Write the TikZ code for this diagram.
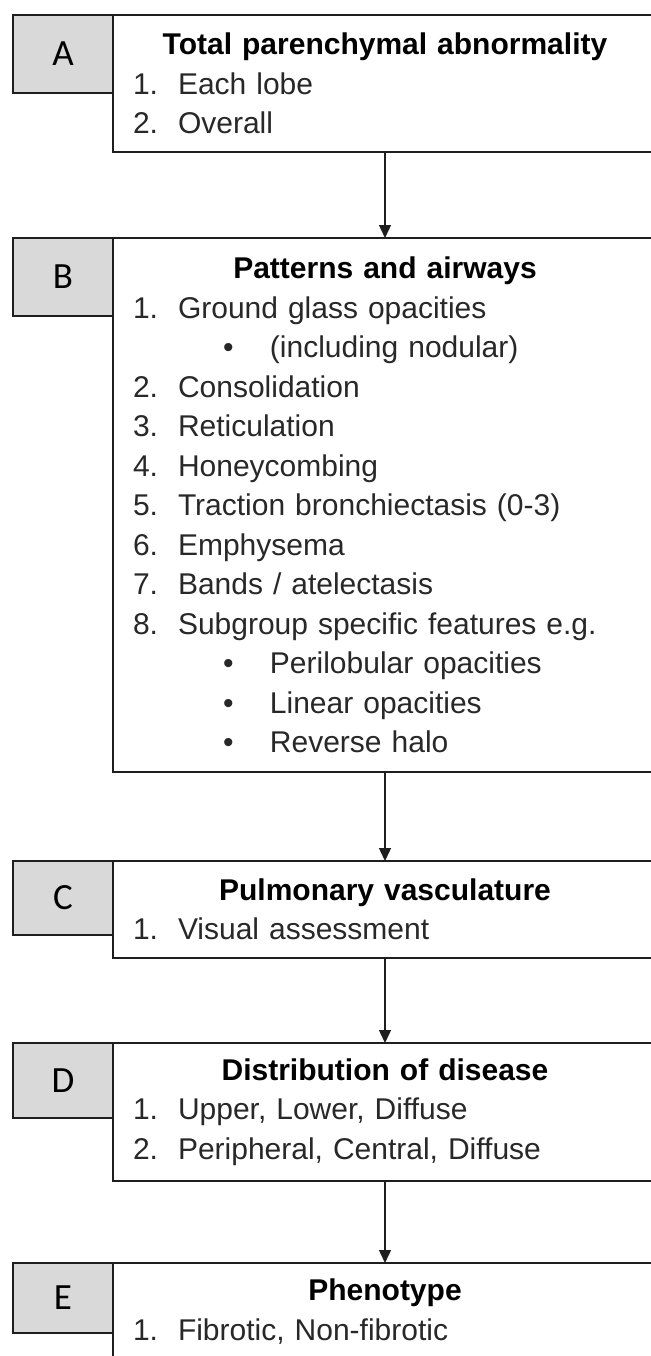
\documentclass[tikz,border=0pt]{standalone}
\usepackage{fontspec}
\setmainfont{Liberation Sans}
\newfontfamily\tagfont{Carlito}
\usepackage{xcolor}
\usepackage{tikz}
\usetikzlibrary{arrows.meta, positioning}
\definecolor{tagfill}{RGB}{217,217,217}
\definecolor{edgegray}{RGB}{30,30,30}
\definecolor{itemgray}{RGB}{40,40,40}

\newcommand{\boxtitle}[1]{\makebox[\hsize][c]{\bfseries\color{black}#1}}
\newcommand{\numitem}[2]{\makebox[22.5pt][l]{#1}#2}
\newcommand{\bulitem}[1]{\hspace*{45pt}\makebox[23.5pt][l]{\textbullet}#1}

\begin{document}
\begin{tikzpicture}[
  x=0.5pt, y=-0.5pt,
  tagbox/.style={draw=edgegray, fill=tagfill, line width=0.7pt,
                 minimum width=50pt, minimum height=39pt,
                 inner sep=0pt, outer sep=0pt, anchor=north west,
                 font=\tagfont\fontsize{18.5pt}{22pt}\selectfont},
  panel/.style={draw=edgegray, fill=white, line width=0.7pt,
                text width=252pt, inner xsep=10pt, inner ysep=0pt,
                outer sep=0pt, align=left, text=itemgray,
                font=\fontsize{15pt}{19.75pt}\selectfont},
  arrow/.style={-{Triangle[width=6pt,length=6.5pt]}, line width=0.7pt, edgegray},
]
\useasboundingbox (0,0) rectangle (651,1356);
\clip (0,0) rectangle (651,1356);

%% Stage tags (left column)
\node[tagbox] (tagA) at (13,15) {A};
\node[tagbox] (tagB) at (13,238) {B};
\node[tagbox, minimum height=37pt] (tagC) at (13,861) {C};
\node[tagbox, minimum height=37.5pt] (tagD) at (13,1043) {D};
\node[tagbox, minimum height=35pt] (tagE) at (13,1263) {E};

%% Panels
\node[panel, below right=0pt and 0pt of tagA.north east, minimum height=68.5pt] (boxA)
  {\boxtitle{Total parenchymal abnormality}\\
   \numitem{1.}{Each lobe}\\
   \numitem{2.}{Overall}};
\node[panel, below right=0pt and 0pt of tagB.north east, minimum height=267pt] (boxB)
  {\boxtitle{Patterns and airways}\\
   \numitem{1.}{Ground glass opacities}\\
   \bulitem{(including nodular)}\\
   \numitem{2.}{Consolidation}\\
   \numitem{3.}{Reticulation}\\
   \numitem{4.}{Honeycombing}\\
   \numitem{5.}{Traction bronchiectasis (0-3)}\\
   \numitem{6.}{Emphysema}\\
   \numitem{7.}{Bands / atelectasis}\\
   \numitem{8.}{Subgroup specific features e.g.}\\
   \bulitem{Perilobular opacities}\\
   \bulitem{Linear opacities}\\
   \bulitem{Reverse halo}};
\node[panel, below right=0pt and 0pt of tagC.north east, minimum height=48.5pt] (boxC)
  {\boxtitle{Pulmonary vasculature}\\
   \numitem{1.}{Visual assessment}};
\node[panel, below right=0pt and 0pt of tagD.north east, minimum height=69pt] (boxD)
  {\boxtitle{Distribution of disease}\\
   \numitem{1.}{Upper, Lower, Diffuse}\\
   \numitem{2.}{Peripheral, Central, Diffuse}};
\node[panel, below right=0pt and 0pt of tagE.north east, minimum height=48.5pt] (boxE)
  {\boxtitle{Phenotype}\\
   \numitem{1.}{Fibrotic, Non-fibrotic}};

%% Flow
\draw[arrow] (boxA) -- (boxB);
\draw[arrow] (boxB) -- (boxC);
\draw[arrow] (boxC) -- (boxD);
\draw[arrow] (boxD) -- (boxE);

\end{tikzpicture}
\end{document}
